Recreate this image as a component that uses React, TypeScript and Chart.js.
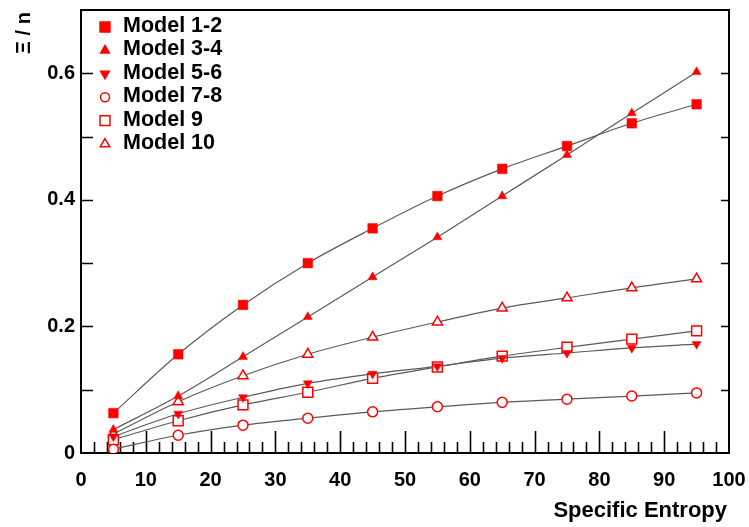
import React, { useEffect, useRef } from "react";
import { Chart, registerables } from "chart.js";

Chart.register(...registerables);

const entropy = [5, 15, 25, 35, 45, 55, 65, 75, 85, 95];
const model12 = [0.063, 0.156, 0.234, 0.300, 0.355, 0.406, 0.449, 0.485, 0.521, 0.551];
const model34 = [0.037, 0.090, 0.152, 0.215, 0.278, 0.341, 0.406, 0.471, 0.537, 0.602];
const model56 = [0.026, 0.062, 0.088, 0.110, 0.125, 0.137, 0.150, 0.158, 0.166, 0.172];
const model78 = [0.006, 0.028, 0.044, 0.055, 0.065, 0.073, 0.080, 0.085, 0.090, 0.095];
const model9 = [0.021, 0.051, 0.076, 0.096, 0.118, 0.136, 0.153, 0.167, 0.180, 0.193];
const model10 = [0.030, 0.081, 0.122, 0.156, 0.183, 0.207, 0.229, 0.245, 0.261, 0.275];

const seriesNames = ["Model 1-2", "Model 3-4", "Model 5-6", "Model 7-8", "Model 9", "Model 10"];
const yMajorLabels = [0, 0.2, 0.4, 0.6];
const xTitle = "Specific Entropy";
const yTitle = "Ξ / n";

const RED = "#ff0000";
const FONT = "'Liberation Sans', Arial, sans-serif";

type Marker = { style: string; rot: number; r: number; filled: boolean; lr: number };
const markers: Marker[] = [
  { style: "rect", rot: 0, r: 6.8, filled: true, lr: 7 },
  { style: "triangle", rot: 0, r: 5.2, filled: true, lr: 5 },
  { style: "triangle", rot: 180, r: 5.2, filled: true, lr: 5 },
  { style: "circle", rot: 0, r: 5, filled: false, lr: 4.5 },
  { style: "rect", rot: 0, r: 7, filled: false, lr: 7 },
  { style: "triangle", rot: 0, r: 5.8, filled: false, lr: 5.5 },
];

function drawMarker(ctx: CanvasRenderingContext2D, m: Marker, x: number, y: number, r: number) {
  ctx.save();
  ctx.fillStyle = m.filled ? RED : "#ffffff";
  ctx.strokeStyle = RED;
  ctx.lineWidth = 1.5;
  ctx.beginPath();
  if (m.style === "rect") {
    const s = Math.SQRT1_2 * r;
    ctx.rect(x - s, y - s, 2 * s, 2 * s);
  } else if (m.style === "circle") {
    ctx.arc(x, y, r, 0, Math.PI * 2);
  } else {
    const dir = m.rot === 180 ? -1 : 1;
    const h = r * 1.5;
    const w = r * Math.sqrt(3) / 2;
    ctx.moveTo(x, y - dir * r);
    ctx.lineTo(x + w, y + dir * h / 3);
    ctx.lineTo(x - w, y + dir * h / 3);
    ctx.closePath();
  }
  ctx.fill();
  ctx.stroke();
  ctx.restore();
}

const framePlugin = {
  id: "frame",
  beforeDatasetsDraw(chart: any) {
    const { ctx, chartArea: a, scales } = chart;
    const x = scales.x;
    const y = scales.y;
    ctx.save();
    ctx.strokeStyle = "#000";
    ctx.lineWidth = 1.6;
    ctx.beginPath();
    for (let v = 2; v < 100; v += 2) {
      const px = Math.round(x.getPixelForValue(v)) + 0.5;
      const len = v % 10 === 0 ? 22 : 11;
      ctx.moveTo(px, a.bottom);
      ctx.lineTo(px, a.bottom - len);
    }
    for (let k = 1; k < 7; k++) {
      const py = Math.round(y.getPixelForValue(k / 10)) + 0.5;
      ctx.moveTo(a.left, py);
      ctx.lineTo(a.left + 12, py);
      ctx.moveTo(a.right, py);
      ctx.lineTo(a.right - 8, py);
    }
    ctx.stroke();
    ctx.lineWidth = 2;
    ctx.strokeRect(a.left, a.top, a.right - a.left, a.bottom - a.top);
    ctx.restore();
  },
  afterDatasetsDraw(chart: any) {
    const { ctx, chartArea: a } = chart;
    ctx.save();
    // legend
    ctx.font = `bold 21.5px ${FONT}`;
    ctx.fillStyle = "#000";
    ctx.textAlign = "left";
    ctx.textBaseline = "middle";
    seriesNames.forEach((name, i) => {
      const cy = a.top + 16 + i * 23.4;
      drawMarker(ctx, markers[i], a.left + 24, cy + 1, markers[i].lr);
      ctx.fillText(name, a.left + 42, cy);
    });
    // axis titles
    ctx.font = `bold 22px ${FONT}`;
    ctx.textAlign = "right";
    ctx.fillText(xTitle, a.right - 2, 511);
    ctx.translate(24, 33);
    ctx.rotate(-Math.PI / 2);
    ctx.font = `bold 20px ${FONT}`;
    ctx.textAlign = "center";
    ctx.fillText(yTitle, 0, 0);
    ctx.restore();
  },
};

const allSeries = [model12, model34, model56, model78, model9, model10];

export default function App() {
  const ref = useRef<HTMLCanvasElement | null>(null);
  useEffect(() => {
    document.body.style.margin = "0";
    const canvas = ref.current!;
    const datasets = allSeries.map((vals, i) => {
      const m = markers[i];
      return {
        label: seriesNames[i],
        data: entropy.map((e, j) => ({ x: e, y: vals[j] })),
        borderColor: "#5a5a5a",
        borderWidth: 1.2,
        cubicInterpolationMode: "monotone" as const,
        pointStyle: m.style,
        pointRotation: m.rot,
        pointRadius: m.r,
        pointHoverRadius: m.r,
        pointBackgroundColor: m.filled ? RED : "#ffffff",
        pointBorderColor: RED,
        pointBorderWidth: m.filled ? 0.5 : 1.5,
        fill: false,
      };
    });
    const chart = new Chart(canvas, {
      type: "line",
      data: { datasets },
      options: {
        animation: false,
        responsive: false,
        events: [],
        layout: { padding: { top: 10, right: 20, left: 0, bottom: 0 } },
        plugins: { legend: { display: false }, tooltip: { enabled: false } },
        scales: {
          x: {
            type: "linear",
            min: 0,
            max: 100,
            border: { display: false },
            grid: { display: false, drawTicks: false },
            ticks: {
              stepSize: 10,
              padding: 15,
              color: "#000",
              font: { family: FONT, size: 20, weight: "bold" },
              maxRotation: 0,
            },
            afterFit: (s: any) => {
              s.height = 74;
              s.paddingLeft = 0;
              s.paddingRight = 0;
            },
          },
          y: {
            type: "linear",
            min: 0,
            max: 0.7,
            border: { display: false },
            grid: { display: false, drawTicks: false },
            ticks: {
              stepSize: 0.2,
              padding: 6,
              color: "#000",
              font: { family: FONT, size: 20, weight: "bold" },
              callback: (v: any) => {
                const n = Number(v);
                const hit = yMajorLabels.find((t) => Math.abs(t - n) < 1e-6);
                if (hit === undefined) return "";
                return hit === 0 ? "0" : hit.toFixed(1);
              },
            },
            afterFit: (s: any) => {
              s.width = 81;
              s.paddingTop = 0;
              s.paddingBottom = 0;
            },
          },
        },
      },
      plugins: [framePlugin],
    });
    return () => chart.destroy();
  }, []);
  return <canvas ref={ref} width={749} height={527} style={{ display: "block" }} />;
}
